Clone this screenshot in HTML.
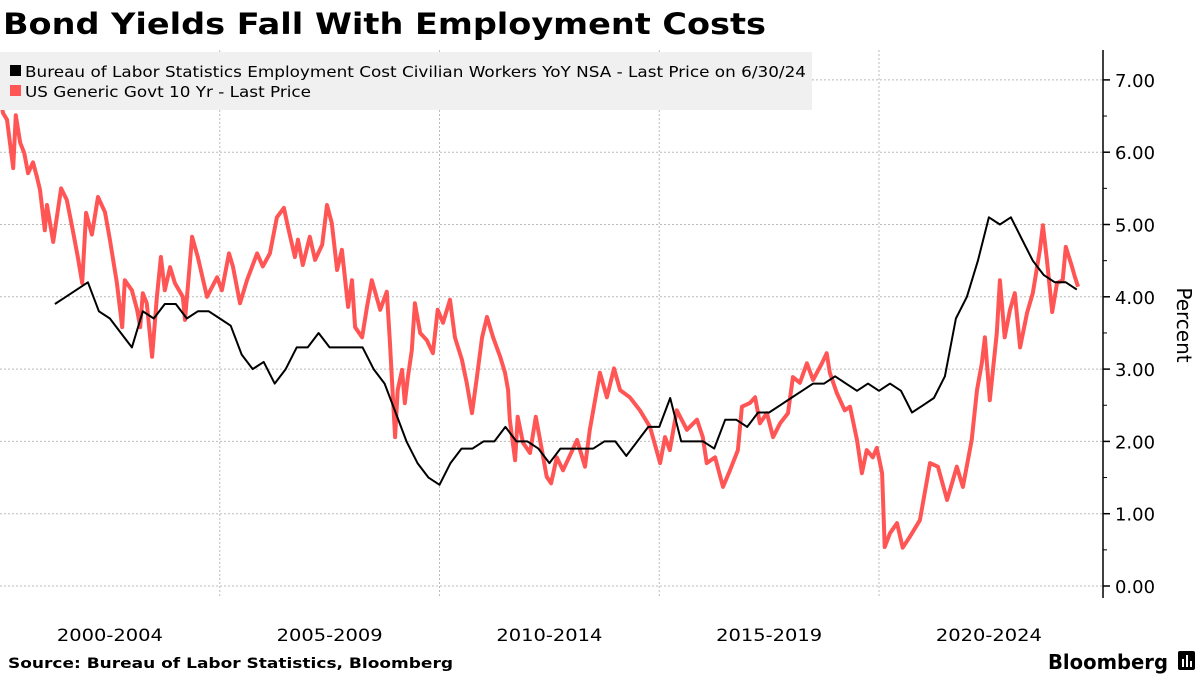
<!DOCTYPE html>
<html><head><meta charset="utf-8">
<style>
body{margin:0;background:#fff;width:1200px;height:675px;overflow:hidden;font-family:"DejaVu Sans","Liberation Sans",sans-serif}
svg{display:block;font-family:"DejaVu Sans","Liberation Sans",sans-serif}
</style></head>
<body>
<svg id="chart" width="1200" height="675">
<text x="3" y="34" font-size="29" font-weight="bold" fill="#000" textLength="763" lengthAdjust="spacingAndGlyphs">Bond Yields Fall With Employment Costs</text>
<g id="grid"></g>
<g id="series"></g>
<rect x="0" y="52" width="812" height="58" fill="#f0f0f0"/>
<g>
<rect x="10" y="65" width="11" height="11" fill="#000"/>
<text x="25" y="77" font-size="15" fill="#000" textLength="781" lengthAdjust="spacingAndGlyphs">Bureau of Labor Statistics Employment Cost Civilian Workers YoY NSA - Last Price on 6/30/24</text>
</g>
<g>
<rect x="10" y="85" width="11" height="11" fill="#f55"/>
<text x="25" y="97" font-size="15" fill="#000" textLength="286" lengthAdjust="spacingAndGlyphs">US Generic Govt 10 Yr - Last Price</text>
</g>
<g id="yaxis"></g>
<g id="xaxis"></g>
<text transform="translate(1177,325) rotate(90)" text-anchor="middle" font-size="20" fill="#000">Percent</text>
<text x="8" y="668" font-size="14.5" font-weight="bold" fill="#000" textLength="445" lengthAdjust="spacingAndGlyphs">Source: Bureau of Labor Statistics, Bloomberg</text>
<g>
<text x="1048" y="669" font-size="20" font-weight="bold" fill="#000" textLength="120" lengthAdjust="spacingAndGlyphs">Bloomberg</text>
<rect x="1178" y="651" width="17" height="19" rx="2" fill="#000"/>
<rect x="1182" y="659" width="2" height="8" fill="#fff"/><rect x="1186" y="655" width="2" height="12" fill="#fff"/><rect x="1190" y="661" width="2" height="6" fill="#fff"/>
</g>
</svg>
<script>
const NS="http://www.w3.org/2000/svg";
// y-axis ticks
const yTicks=[0,1,2,3,4,5,6,7];
const yTickLabels=["0.00","1.00","2.00","3.00","4.00","5.00","6.00","7.00"];
// x-axis category labels (5-year groups)
const xGroupLabels=["2000-2004","2005-2009","2010-2014","2015-2019","2020-2024"];
const xGroupStarts=[2000,2005,2010,2015,2020];
// ECI YoY, quarterly from 2001 Q2
const eciStart=2001.25;
const eciV=[3.9,4.0,4.1,4.2,3.8,3.7,3.5,3.3,3.8,3.7,3.9,3.9,3.7,3.8,3.8,3.7,3.6,3.2,3.0,3.1,2.8,3.0,3.3,3.3,3.5,3.3,3.3,3.3,3.3,3.0,2.8,2.4,2.0,1.7,1.5,1.4,1.7,1.9,1.9,2.0,2.0,2.2,2.0,2.0,1.9,1.7,1.9,1.9,1.9,1.9,2.0,2.0,1.8,2.0,2.2,2.2,2.6,2.0,2.0,2.0,1.9,2.3,2.3,2.2,2.4,2.4,2.5,2.6,2.7,2.8,2.8,2.9,2.8,2.7,2.8,2.7,2.8,2.7,2.4,2.5,2.6,2.9,3.7,4.0,4.5,5.1,5.0,5.1,4.8,4.5,4.3,4.2,4.2,4.1];
// US 10Y yield: dates (years since 2000) and values
const ustT=[0.00,0.07,0.16,0.30,0.36,0.46,0.55,0.64,0.75,0.84,0.91,1.02,1.07,1.21,1.39,1.52,1.64,1.77,1.87,1.96,2.09,2.23,2.39,2.50,2.66,2.78,2.84,3.00,3.12,3.19,3.25,3.34,3.46,3.57,3.66,3.75,3.87,3.98,4.16,4.21,4.37,4.50,4.71,4.94,5.05,5.21,5.30,5.46,5.62,5.85,5.98,6.14,6.30,6.46,6.55,6.71,6.78,6.89,7.05,7.17,7.33,7.44,7.55,7.67,7.78,7.92,8.01,8.08,8.24,8.35,8.46,8.65,8.80,8.87,8.94,8.99,9.05,9.15,9.21,9.28,9.37,9.44,9.56,9.71,9.85,9.96,10.08,10.24,10.35,10.51,10.62,10.74,10.85,10.97,11.08,11.22,11.38,11.49,11.56,11.60,11.72,11.78,11.90,12.06,12.19,12.33,12.44,12.54,12.67,12.81,13.13,13.31,13.42,13.65,13.81,13.97,14.11,14.33,14.56,14.79,15.02,15.13,15.24,15.40,15.63,15.86,15.99,16.08,16.27,16.45,16.61,16.79,16.88,17.06,17.18,17.29,17.45,17.59,17.75,17.93,18.04,18.20,18.36,18.50,18.70,18.81,18.88,19.04,19.22,19.34,19.50,19.61,19.72,19.86,19.95,20.07,20.13,20.25,20.41,20.54,20.70,20.93,21.16,21.34,21.55,21.77,21.91,22.11,22.23,22.34,22.41,22.52,22.68,22.75,22.86,22.98,23.09,23.21,23.37,23.50,23.66,23.73,23.82,23.94,24.05,24.18,24.25,24.39,24.46,24.53];
const ustV=[6.77,6.54,6.45,5.78,6.51,6.13,5.99,5.71,5.86,5.66,5.48,4.92,5.27,4.76,5.5,5.34,4.97,4.55,4.19,5.16,4.86,5.38,5.17,4.79,4.19,3.58,4.23,4.09,3.82,3.58,4.05,3.91,3.17,4.0,4.55,4.09,4.41,4.19,4.0,3.68,4.83,4.55,4.0,4.27,4.09,4.6,4.42,3.91,4.23,4.6,4.42,4.6,5.1,5.23,4.97,4.55,4.79,4.44,4.83,4.51,4.72,5.27,5.02,4.37,4.65,3.86,4.23,3.58,3.44,3.86,4.23,3.82,4.07,3.4,2.61,2.06,2.71,2.99,2.53,2.89,3.26,3.91,3.5,3.4,3.22,3.82,3.64,3.96,3.44,3.13,2.81,2.39,2.89,3.44,3.72,3.44,3.17,2.95,2.71,2.3,1.74,2.34,1.98,1.84,2.34,1.88,1.51,1.42,1.78,1.6,2.02,1.65,2.16,2.95,2.61,3.01,2.71,2.61,2.43,2.2,1.7,2.06,1.88,2.43,2.16,2.3,2.06,1.7,1.78,1.37,1.6,1.88,2.48,2.53,2.61,2.25,2.39,2.06,2.25,2.39,2.89,2.81,3.08,2.85,3.08,3.22,2.95,2.67,2.43,2.48,2.02,1.56,1.88,1.78,1.91,1.56,0.54,0.73,0.87,0.53,0.68,0.91,1.7,1.65,1.19,1.65,1.37,2.02,2.71,3.08,3.44,2.57,3.5,4.23,3.44,3.82,4.05,3.3,3.78,4.05,4.65,4.99,4.51,3.79,4.19,4.23,4.69,4.42,4.27,4.14];

const X0=0,PXY=43.95,Y0=586,PXV=72.3,AXIS_X=1103,TOP=50,BOT=598;
const xs=t=>X0+(t-2000)*PXY;
const ys=v=>Y0-v*PXV;
const grid=document.getElementById('grid'),series=document.getElementById('series'),yaxis=document.getElementById('yaxis'),xaxis=document.getElementById('xaxis');
function mk(tag,attrs,parent){const e=document.createElementNS(NS,tag);for(const k in attrs)e.setAttribute(k,attrs[k]);parent.appendChild(e);return e;}

yTicks.forEach((v,i)=>{
  const g=mk('line',{x1:0,x2:AXIS_X,y1:ys(v),y2:ys(v),stroke:'#bbb','stroke-width':1,'stroke-dasharray':'2,2'},grid);
  
  
  const tk=mk('line',{x1:AXIS_X,x2:AXIS_X+7,y1:ys(v),y2:ys(v),stroke:'#000','stroke-width':1.5},yaxis);
  
  
  if(i<yTicks.length-1){const m=mk('line',{x1:AXIS_X,x2:AXIS_X+4,y1:ys(v+0.5),y2:ys(v+0.5),stroke:'#000','stroke-width':1},yaxis);
  
  }
  const t=mk('text',{x:1115,y:ys(v)+7,'font-size':18,fill:'#000',textLength:40,lengthAdjust:'spacingAndGlyphs'},yaxis);t.textContent=yTickLabels[i];
  
  
});
const ax=mk('line',{x1:AXIS_X,x2:AXIS_X,y1:TOP,y2:BOT,stroke:'#000','stroke-width':1.5},yaxis);



xGroupStarts.forEach((s,i)=>{
  if(i>0){const g=mk('line',{x1:xs(s),x2:xs(s),y1:TOP,y2:BOT,stroke:'#bbb','stroke-width':1,'stroke-dasharray':'2,2'},grid);
  
  }
  const t=mk('text',{x:xs(s+2.5),y:641,'font-size':17,fill:'#000','text-anchor':'middle',textLength:106,lengthAdjust:'spacingAndGlyphs'},xaxis);t.textContent=xGroupLabels[i];
  
  
});

const ustPts=ustT.map((t,i)=>xs(2000+t).toFixed(1)+','+ys(ustV[i]).toFixed(1)).join(' ');
const ust=mk('polyline',{points:ustPts,fill:'none',stroke:'#f55','stroke-width':4,'stroke-linejoin':'round'},series);


const eciPts=eciV.map((v,i)=>xs(eciStart+i*0.25).toFixed(1)+','+ys(v).toFixed(1)).join(' ');
const eci=mk('polyline',{points:eciPts,fill:'none',stroke:'#000','stroke-width':2,'stroke-linejoin':'round'},series);


</script>
</body></html>
